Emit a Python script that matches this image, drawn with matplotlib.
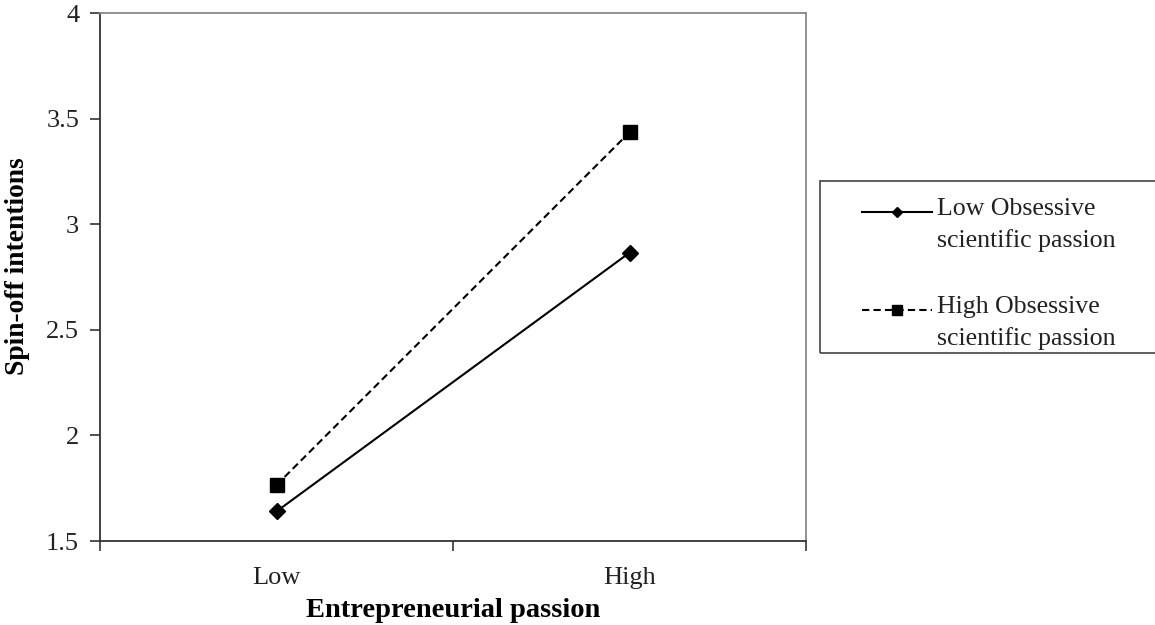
import matplotlib.pyplot as plt
from matplotlib.lines import Line2D
from matplotlib.patches import Rectangle

# data
categories = ['Low', 'High']
low_obsessive = [1.64, 2.865]
high_obsessive = [1.765, 3.435]
series_labels = ['Low Obsessive\nscientific passion', 'High Obsessive\nscientific passion']
yticks = [1.5, 2, 2.5, 3, 3.5, 4]

plt.rcParams['font.family'] = ['Liberation Serif', 'DejaVu Serif']

W, H = 1155, 625
fig = plt.figure(figsize=(W / 100, H / 100), dpi=100)
ax = fig.add_axes([100/W, 1 - 541/H, 706/W, 528/H])

dash = (0, (3.5, 2.0))
styles = [dict(ls='-', marker='D'), dict(ls=dash, marker='s')]
msizes = [8, 10]

xpos = [i + 0.5 for i in range(len(categories))]
for vals, st, ms in zip([low_obsessive, high_obsessive], styles, msizes):
    ax.plot(xpos, vals, color='black', lw=1.5, ms=ms, **st)

ax.set_xlim(0, len(categories))
ax.set_ylim(1.5, 4)
ax.set_yticks(yticks)
ax.set_yticklabels(['1.5', '2', '2.5', '3', '3.5', '4'])
ax.set_xticks(range(len(categories) + 1))
ax.set_xticklabels([])
ax.set_xticks(xpos, minor=True)
ax.set_xticklabels(categories, minor=True)
ax.tick_params(axis='x', which='minor', length=0, pad=19, labelsize=19, colors='#222222')
ax.tick_params(axis='x', which='major', length=7, width=1.2, color='#333333')
ax.tick_params(axis='y', length=7, width=1.2, color='#333333', labelsize=19, labelcolor='#222222', pad=8)

for side in ['left', 'bottom']:
    ax.spines[side].set_color('#333333')
    ax.spines[side].set_linewidth(1.3)
for side in ['top', 'right']:
    ax.spines[side].set_color('#888888')
    ax.spines[side].set_linewidth(1.3)

ax.set_xlabel('Entrepreneurial passion', fontsize=20.5, fontweight='bold', labelpad=6)
ax.set_ylabel('Spin-off intentions', fontsize=19.8, fontweight='bold')
ax.yaxis.set_label_coords(-0.099, 0.521)

# legend drawn by hand: handle sits on the first text line, as in the original
fig.patches.append(Rectangle((820/W, 1 - 353/H), 340/W, 172/H,
                             transform=fig.transFigure, fill=False,
                             edgecolor='#444444', lw=1.2))
entry_top = [212, 310]
for label, st, ms, y in zip(series_labels, styles, msizes, entry_top):
    fig.add_artist(Line2D([862/W, 932/W], [1 - y/H, 1 - y/H], transform=fig.transFigure,
                          color='black', lw=1.5, ls=st['ls']))
    fig.add_artist(Line2D([897/W], [1 - y/H], transform=fig.transFigure,
                          color='black', ms=ms * 0.7, marker=st['marker'], ls='none'))
    for j, line in enumerate(label.split('\n')):
        fig.text(937/W, 1 - (y + 3 + 32 * j)/H, line, fontsize=18.6,
                 color='#222222', va='baseline', ha='left')

fig.savefig('out.png', dpi=100)
